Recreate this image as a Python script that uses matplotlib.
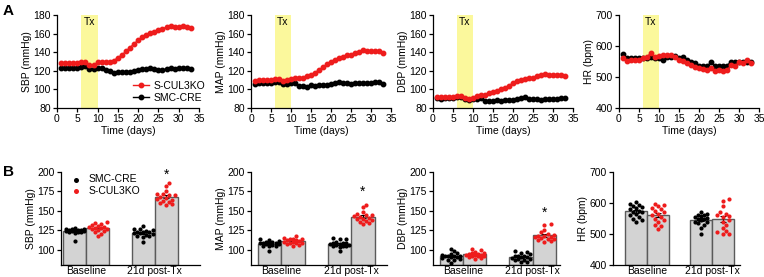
import matplotlib
matplotlib.use("Agg")
import matplotlib.pyplot as plt
import numpy as np

plt.rcParams["font.family"] = ["Liberation Sans", "DejaVu Sans"]

DAYS = list(range(1, 34))

SBP_KO = [128, 128, 128, 128, 128, 129, 129, 126, 126, 129, 130, 129, 129, 131, 134, 137, 141,
          145, 149, 153, 156, 159, 161, 162, 164, 165, 167, 168, 167, 167, 168, 167, 166]
SBP_CRE = [123, 123, 123, 123, 123, 124, 125, 122, 122, 123, 123, 121, 120, 118, 119, 119, 119,
           119, 120, 121, 122, 122, 123, 122, 121, 121, 122, 123, 122, 123, 123, 123, 122]
MAP_KO = [109, 110, 110, 110, 110, 111, 111, 109, 110, 111, 112, 112, 112, 114, 116, 118, 121,
          124, 127, 130, 132, 134, 135, 137, 137, 139, 140, 142, 141, 141, 141, 141, 139]
MAP_CRE = [106, 107, 107, 107, 107, 108, 108, 106, 106, 107, 107, 104, 104, 103, 105, 104, 105,
           105, 105, 106, 107, 108, 107, 107, 106, 107, 107, 107, 107, 107, 108, 108, 106]
DBP_KO = [92, 92, 92, 92, 92, 93, 93, 91, 90, 91, 93, 94, 94, 96, 97, 98, 100,
          102, 104, 107, 109, 110, 111, 112, 112, 114, 115, 117, 116, 115, 115, 116, 114]
DBP_CRE = [91, 90, 91, 91, 91, 92, 92, 90, 89, 90, 90, 91, 87, 88, 87, 89, 88,
           89, 89, 89, 90, 91, 92, 90, 90, 90, 89, 90, 90, 90, 90, 91, 91]
HR_KO = [562, 552, 555, 555, 555, 560, 565, 578, 565, 568, 570, 570, 570, 563, 556, 553, 545,
         540, 532, 528, 527, 524, 530, 520, 522, 518, 522, 538, 535, 548, 545, 555, 545]
HR_CRE = [573, 562, 562, 562, 562, 562, 562, 563, 560, 560, 555, 565, 565, 568, 560, 565, 555,
          550, 545, 535, 535, 535, 547, 537, 537, 537, 537, 548, 548, 548, 548, 548, 550]

GROUPS = ["Baseline", "21d post-Tx"]

SBP_B = {
    "cre": [[125, 124, 126, 123, 125, 127, 122, 124, 126, 125, 128, 121, 124, 111, 125, 123],
            [130, 127, 126, 125, 124, 123, 122, 121, 122, 120, 119, 118, 117, 116, 110, 121]],
    "ko": [[135, 133, 131, 134, 128, 129, 130, 127, 126, 125, 128, 122, 124, 120, 117, 129],
           [186, 182, 175, 172, 170, 171, 168, 167, 165, 163, 161, 160, 158, 159, 164, 170]],
}
MAP_B = {
    "cre": [[113, 112, 111, 110, 110, 109, 108, 108, 107, 106, 105, 104, 104, 98, 109, 107],
            [115, 113, 113, 110, 109, 108, 108, 107, 106, 106, 105, 104, 103, 98, 107, 105]],
    "ko": [[117, 115, 114, 113, 112, 112, 111, 110, 110, 109, 108, 107, 106, 105, 113, 109],
           [158, 155, 148, 145, 144, 143, 142, 141, 140, 138, 137, 136, 134, 133, 140, 146]],
}
DBP_B = {
    "cre": [[101, 98, 95, 94, 93, 92, 91, 90, 90, 89, 88, 87, 86, 82, 92, 91],
            [98, 97, 96, 94, 92, 91, 90, 90, 89, 88, 88, 87, 86, 84, 84, 91]],
    "ko": [[101, 99, 97, 96, 95, 94, 93, 93, 92, 92, 91, 90, 89, 88, 94, 93],
           [133, 131, 125, 122, 120, 119, 118, 117, 116, 115, 114, 113, 112, 111, 110, 116]],
}
HR_B = {
    "cre": [[602, 596, 592, 590, 588, 585, 580, 575, 572, 570, 565, 560, 555, 550, 545, 540],
            [572, 565, 562, 560, 558, 555, 552, 550, 548, 545, 540, 538, 535, 530, 520, 500]],
    "ko": [[598, 592, 590, 585, 580, 575, 570, 565, 560, 555, 550, 545, 540, 530, 525, 515],
           [612, 606, 590, 570, 565, 560, 558, 555, 545, 540, 530, 520, 510, 505, 500, 500]],
}

RED = "#ee1c1c"
W, H = 764, 277


def px_axes(fig, left, right, top, bottom):
    return fig.add_axes([left / W, 1 - bottom / H, (right - left) / W, (bottom - top) / H])


def style(ax):
    for s in ("top", "right"):
        ax.spines[s].set_visible(False)
    for s in ("left", "bottom"):
        ax.spines[s].set_linewidth(0.9)
    ax.tick_params(labelsize=7.5, length=3, width=0.9, pad=1.5)


def time_panel(ax, ko, cre, ylim, yticks, ylabel, legend=False):
    style(ax)
    ax.axvspan(6, 10, color="#fbf89c", lw=0, zorder=0)
    ax.plot(DAYS, cre, "-o", color="black", ms=3.2, lw=1, label="SMC-CRE", zorder=3)
    ax.plot(DAYS, ko, "-o", color=RED, ms=3.2, lw=1, label="S-CUL3KO", zorder=4)
    ax.set_xlim(0, 35)
    ax.set_xticks(range(0, 36, 5))
    ax.set_ylim(*ylim)
    ax.set_yticks(yticks)
    ax.text(8, ylim[1] - (ylim[1] - ylim[0]) * 0.02, "Tx", ha="center", va="top", fontsize=7.5)
    ax.set_xlabel("Time (days)", fontsize=7.5, labelpad=1)
    ax.set_ylabel(ylabel, fontsize=7.5, labelpad=1)
    if legend:
        h, l = ax.get_legend_handles_labels()
        ax.legend(h[::-1], l[::-1], loc="lower right", frameon=False, fontsize=7.5,
                  handlelength=1.6, borderaxespad=0.1, labelspacing=0.2, handletextpad=0.4,
                  bbox_to_anchor=(1.08, 0.0))


def swarm(ax, xc, vals, half_px, diam=3.6):
    vals = np.asarray(vals, float)
    order = np.argsort(vals)
    placed = []
    xs = np.zeros(len(vals))
    step = diam * 0.85
    nmax = int(half_px // step)
    cands = [0.0]
    for k in range(1, nmax + 1):
        cands += [k * step, -k * step]
    for i in order:
        p0 = ax.transData.transform((xc, vals[i]))
        best, best_d = None, -1
        for off in cands:
            c = (p0[0] + off, p0[1])
            d = min([np.hypot(c[0] - q[0], c[1] - q[1]) for q in placed] or [99])
            if d >= diam:
                best = c
                break
            if d > best_d:
                best, best_d = c, d
        placed.append(best)
        xs[i] = ax.transData.inverted().transform(best)[0]
    return xs


def bar_panel(ax, data, ylim, yticks, ylabel, xlim, star=None, legend=False):
    style(ax)
    ax.set_xlim(*xlim)
    ax.set_ylim(*ylim)
    ax.set_yticks(yticks)
    bw = 0.335
    fig.canvas.draw()
    half_px = (ax.transData.transform((bw, 0))[0] - ax.transData.transform((0, 0))[0]) * 0.42
    for g in range(2):
        for key, off, col in (("cre", -bw / 2, "black"), ("ko", bw / 2, RED)):
            v = np.array(data[key][g], float)
            m = v.mean()
            sem = v.std(ddof=1) / np.sqrt(len(v))
            x = g + off
            ax.bar(x, m - ylim[0], bottom=ylim[0], width=bw, color="#d3d3d3",
                   edgecolor="#5a5a5a", lw=1.0, zorder=1)
            ax.errorbar(x, m, yerr=sem, color="black", capsize=2.5, lw=0.8, capthick=0.8, zorder=2)
            xs = swarm(ax, x, v, half_px)
            ax.scatter(xs, v, s=9, color=col, lw=0, zorder=3,
                       label=("SMC-CRE" if key == "cre" else "S-CUL3KO") if g == 0 else None)
    if star is not None:
        ax.text(1 + bw / 2, star, "*", ha="center", va="center", fontsize=10)
    ax.set_xticks([0, 1])
    ax.set_xticklabels(GROUPS, fontsize=7.5)
    ax.tick_params(axis="x", length=0, pad=1)
    ax.set_ylabel(ylabel, fontsize=7.5, labelpad=1)
    if legend:
        ax.legend(loc="upper left", frameon=False, fontsize=7.5, handletextpad=0.2,
                  borderaxespad=0.0, labelspacing=0.15, markerscale=1.2,
                  bbox_to_anchor=(0.0, 1.02))


fig = plt.figure(figsize=(W / 100, H / 100), dpi=100)

a1 = px_axes(fig, 57, 199, 15, 108)
a2 = px_axes(fig, 251, 391, 15, 108)
a3 = px_axes(fig, 433, 573, 15, 108)
a4 = px_axes(fig, 619, 759, 15, 108)
time_panel(a1, SBP_KO, SBP_CRE, (80, 180), range(80, 181, 20), "SBP (mmHg)", legend=True)
time_panel(a2, MAP_KO, MAP_CRE, (80, 180), range(80, 181, 20), "MAP (mmHg)")
time_panel(a3, DBP_KO, DBP_CRE, (80, 180), range(80, 181, 20), "DBP (mmHg)")
time_panel(a4, HR_KO, HR_CRE, (400, 700), range(400, 701, 100), "HR (bpm)")

b1 = px_axes(fig, 61, 200, 172, 265)
b2 = px_axes(fig, 251, 387, 172, 265)
b3 = px_axes(fig, 433, 560, 172, 265)
b4 = px_axes(fig, 613, 740, 172, 265)
bar_panel(b1, SBP_B, (80, 200), range(100, 201, 25), "SBP (mmHg)", (-0.37, 1.66), star=196, legend=True)
bar_panel(b2, MAP_B, (80, 200), range(100, 201, 25), "MAP (mmHg)", (-0.43, 1.51), star=174)
bar_panel(b3, DBP_B, (80, 200), range(100, 201, 25), "DBP (mmHg)", (-0.43, 1.39), star=147)
bar_panel(b4, HR_B, (400, 700), range(400, 701, 100), "HR (bpm)", (-0.52, 1.43))

fig.text(0.004, 0.985, "A", fontsize=11, fontweight="bold", va="top")
fig.text(0.004, 0.405, "B", fontsize=11, fontweight="bold", va="top")

fig.savefig("out.png", dpi=100)
